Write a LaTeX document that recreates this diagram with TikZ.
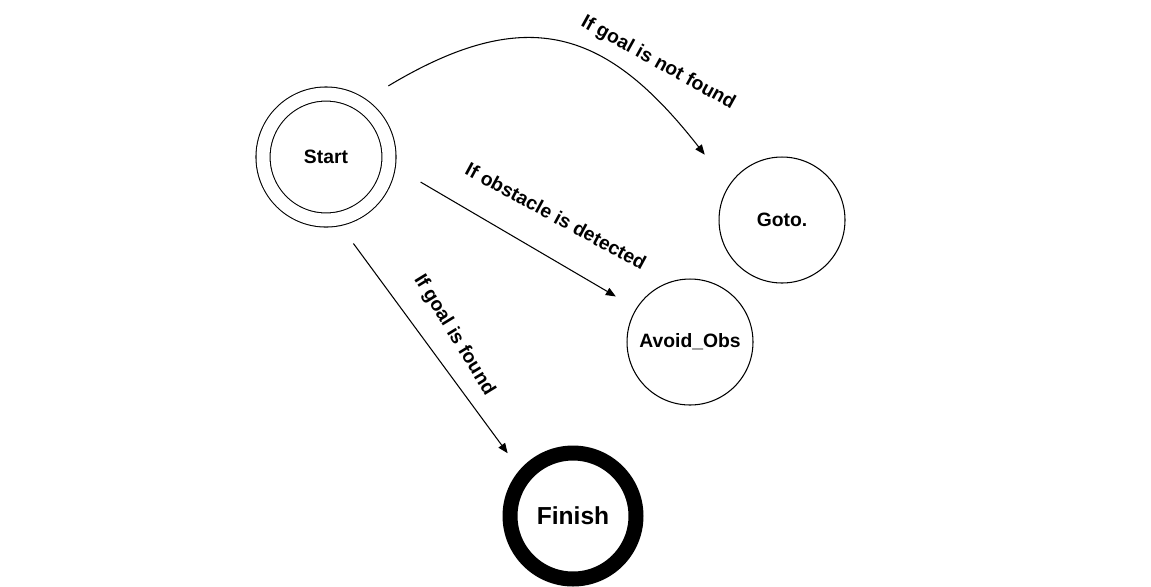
\documentclass[tikz,border=0pt]{standalone}
\usepackage{fontspec}
\setmainfont{Liberation Sans}
\usetikzlibrary{arrows.meta}
\tikzstyle{state} = [circle, draw, line width=0.6pt, minimum size=2.52cm, inner sep=0pt, font=\fontsize{11}{13}\selectfont\bfseries]
\tikzset{initial/.style={state, double, double distance=7.4pt},
    final/.style={state, line width=0.3cm, font=\fontsize{14}{16}\selectfont\bfseries},
    trans/.style={-{Triangle[length=0.2cm,width=0.16cm]}, line width=0.6pt},
    cond/.style={inner sep=0pt, font=\fontsize{11}{13}\selectfont\bfseries}}
\begin{document}
\begin{tikzpicture}[x=0.02cm, y=-0.02cm]
    \useasboundingbox (0,0) rectangle (1151,586);
    % states
    \node[initial] (start) at (326,157) {Start};
    \node[state] (goto) at (782,220) {Goto.};
    \node[state] (avoid) at (690,342) {Avoid\_Obs};
    \node[final] (finish) at (573,516) {Finish};
    % transitions
    \draw[trans, shorten <=0.67cm, shorten >=0.78cm] (start.58) to[out=31, in=128, looseness=1.33] (goto.147);
    \draw[trans, shorten <=0.73cm, shorten >=0.47cm] (start.-6) -- (avoid.148);
    \draw[trans, shorten <=0.59cm, shorten >=0.41cm] (start.-81) -- (finish.139);
    % conditions
    \node[cond, rotate=-29] (notfound) at (658,63) {If goal is not found};
    \node[cond, rotate=-28.5] (obstacle) at (556,216) {If obstacle is detected};
    \node[cond, rotate=-58.5] (found) at (454,335) {If goal is found};
\end{tikzpicture}
\end{document}
